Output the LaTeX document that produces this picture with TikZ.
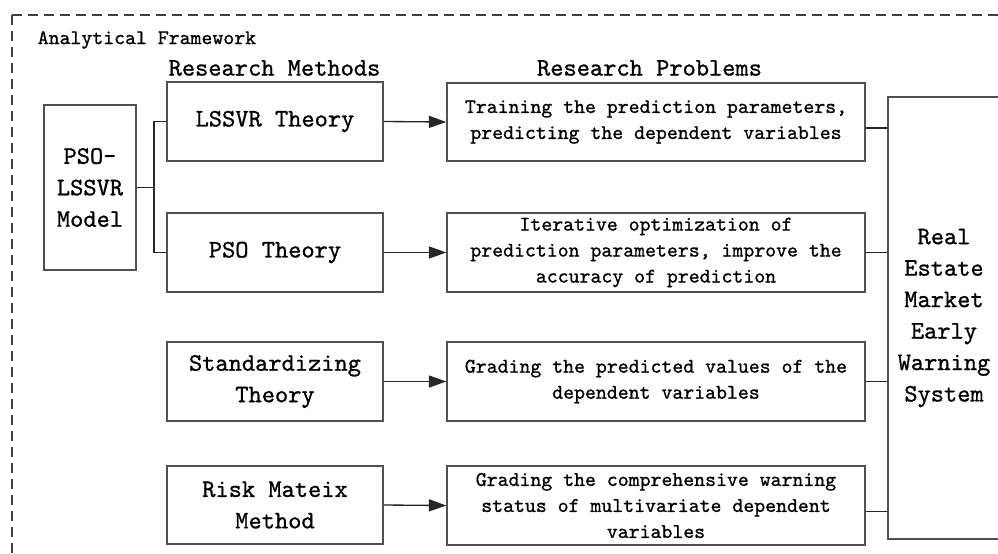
\documentclass[tikz,border=0pt]{standalone}
\usepackage{fontspec}
\setmonofont{lmmono10-regular}[Extension=.otf,FakeBold=0.9]
\usetikzlibrary{arrows.meta}
\definecolor{edge}{HTML}{505050}
\tikzset{
  bigtxt/.style={font=\ttfamily\fontsize{18.9pt}{23.6pt}\selectfont},
  smalltxt/.style={font=\ttfamily\fontsize{15.6pt}{19.5pt}\selectfont},
  box/.style={draw=edge,line width=1.1pt,align=center,inner sep=0pt},
  conn/.style={draw=black!85,line width=1pt},
  arr/.style={conn,-{Triangle[length=13pt,width=9pt]}},
}
\begin{document}
\begin{tikzpicture}[x=0.75pt,y=-0.75pt]
\useasboundingbox (0,0) rectangle (998,553);
% dashed frame (only top and left edges visible)
\draw[black!75,line width=1.6pt,dash pattern=on 7.5pt off 4.5pt] (12,15) rectangle (1040,600);
\node[smalltxt,anchor=west] (title) at (33,40) {Analytical Framework};
\node[bigtxt] (hm) at (274.5,68) {Research Methods};
\node[bigtxt] (hp) at (649.5,68) {Research Problems};
% left model box
\node[box,bigtxt,minimum width=92*0.75pt,minimum height=165*0.75pt] (model) at (90,187.5) {PSO-\\LSSVR\\Model};
% method boxes
\node[box,bigtxt,minimum width=216*0.75pt,minimum height=79*0.75pt] (lssvr) at (275,121.5) {LSSVR Theory};
\node[box,bigtxt,minimum width=216*0.75pt,minimum height=79*0.75pt] (pso) at (275,252.5) {PSO Theory};
\node[box,bigtxt,minimum width=216*0.75pt,minimum height=79*0.75pt] (std) at (275,381.5) {Standardizing\\Theory};
\node[box,bigtxt,minimum width=216*0.75pt,minimum height=78*0.75pt] (risk) at (275,505) {Risk Mateix\\Method};
% problem boxes
\node[box,smalltxt,minimum width=418*0.75pt,minimum height=78*0.75pt] (p1) at (656,122) {Training the prediction parameters,\\predicting the dependent variables};
\node[box,smalltxt,minimum width=418*0.75pt,minimum height=79*0.75pt] (p2) at (656,252.5) {Iterative optimization of\\prediction parameters, improve the\\accuracy of prediction};
\node[box,smalltxt,minimum width=418*0.75pt,minimum height=79*0.75pt] (p3) at (656,381.5) {Grading the predicted values of the\\dependent variables};
\node[box,smalltxt,minimum width=418*0.75pt,minimum height=79*0.75pt] (p4) at (656,505.5) {Grading the comprehensive warning\\status of multivariate dependent\\variables};
% result box
\node[box,bigtxt,minimum width=112*0.75pt,minimum height=442*0.75pt] (res) at (944,318) {Real\\Estate\\Market\\Early\\Warning\\System};
% connectors
\coordinate (j) at (154,187.5);
\draw[conn] (model.east) -- (j);
\draw[conn] (lssvr.west) -| (j) |- (pso.west);
\draw[arr] (lssvr.east) -- (p1.west);
\draw[arr] (pso.east) -- (p2.west);
\draw[arr] (std.east) -- (p3.west);
\draw[arr] (risk.east) -- (p4.west);
\draw[conn] ([yshift=-4.5pt]p1.east) -- ([yshift=-4.5pt]p1.east -| res.west);
\draw[conn] (p2.east) -- (p2.east -| res.west);
\draw[conn] (p3.east) -- (p3.east -| res.west);
\draw[conn] ([yshift=-4.5pt]p4.east) -- ([yshift=-4.5pt]p4.east -| res.west);
\end{tikzpicture}
\end{document}
